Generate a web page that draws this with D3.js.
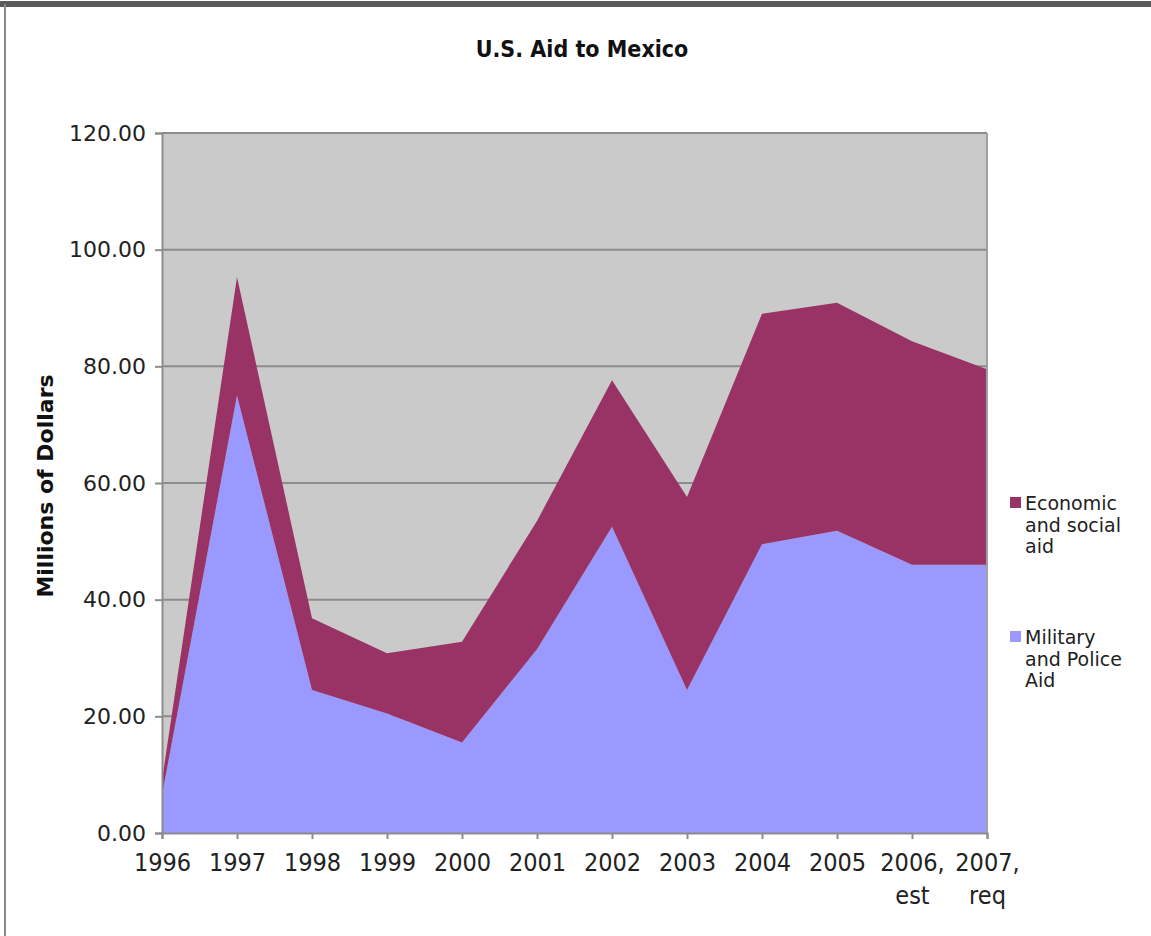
<!DOCTYPE html>
<html>
<head>
<meta charset="utf-8">
<script src="https://cdn.jsdelivr.net/npm/d3@7"></script>
<style>
  html, body { margin: 0; padding: 0; background: #ffffff; }
  svg { display: block; }
</style>
</head>
<body>
<svg id="chart" width="1151" height="936"></svg>
<script>
// ---- data ----
const years = ["1996","1997","1998","1999","2000","2001","2002","2003","2004","2005","2006","2007"];
const yearLabels = ["1996","1997","1998","1999","2000","2001","2002","2003","2004","2005","2006,","2007,"];
const yearSubLabels = ["","","","","","","","","","","est","req"];
const militaryAid = [6.5, 75.0, 24.5, 20.5, 15.5, 31.5, 52.5, 24.5, 49.5, 51.8, 46.0, 46.0];
const economicAid = [2.5, 20.3, 12.3, 10.3, 17.3, 22.0, 25.1, 33.1, 39.5, 39.1, 38.3, 33.5];
const yTicks = [0, 20, 40, 60, 80, 100, 120];
const seriesNames = ["Military and Police Aid", "Economic and social aid"];
const legendLines = [["Economic", "and social", "aid"], ["Military", "and Police", "Aid"]];

// ---- layout ----
const W = 1151, H = 936;
const plot = { left: 162, right: 987, top: 133, bottom: 833 };
const colors = { military: "#9999ff", economic: "#993366" };

const svg = d3.select("#chart");

// outer frame
svg.append("rect").attr("x", 0).attr("y", 0).attr("width", W).attr("height", H).attr("fill", "#ffffff");
svg.append("line").attr("x1", 0).attr("x2", W).attr("y1", 4).attr("y2", 4)
  .attr("stroke", "#5a5a5a").attr("stroke-width", 6);
svg.append("line").attr("x1", 5).attr("x2", 5).attr("y1", 4).attr("y2", H)
  .attr("stroke", "#8a8a8a").attr("stroke-width", 2);

const x = d3.scalePoint().domain(years).range([plot.left, plot.right]);
const y = d3.scaleLinear().domain([0, 120]).range([plot.bottom, plot.top]);

// plot background
svg.append("rect")
  .attr("x", plot.left).attr("y", plot.top)
  .attr("width", plot.right - plot.left).attr("height", plot.bottom - plot.top)
  .attr("fill", "#cacaca");

// gridlines
svg.append("g").selectAll("line").data(yTicks.filter(d => d > 0)).join("line")
  .attr("x1", plot.left).attr("x2", plot.right)
  .attr("y1", d => y(d)).attr("y2", d => y(d))
  .attr("stroke", "#8c8c8c").attr("stroke-width", 2);

// stacked areas
const rows = years.map((yr, i) => ({ year: yr, military: militaryAid[i], economic: economicAid[i] }));
const stack = d3.stack().keys(["military", "economic"]);
const stacked = stack(rows);
const area = d3.area()
  .x(d => x(d.data.year))
  .y0(d => y(d[0]))
  .y1(d => y(d[1]));

svg.append("g").selectAll("path").data(stacked).join("path")
  .attr("d", area)
  .attr("fill", d => colors[d.key]);

// right border of plot
svg.append("line").attr("x1", plot.right).attr("x2", plot.right)
  .attr("y1", plot.top).attr("y2", plot.bottom)
  .attr("stroke", "#a0a0a0").attr("stroke-width", 2);

// y axis
const yAxis = d3.axisLeft(y).tickValues(yTicks).tickFormat(d3.format(".2f")).tickSize(7).tickPadding(9);
const gy = svg.append("g").attr("transform", `translate(${plot.left},0)`).call(yAxis);
gy.select(".domain").attr("stroke", "#8c8c8c").attr("stroke-width", 2);
gy.selectAll(".tick line").attr("stroke", "#8c8c8c").attr("stroke-width", 2);
gy.selectAll(".tick text")
  .attr("font-family", "'DejaVu Sans', Verdana, sans-serif")
  .attr("font-size", 22).attr("fill", "#222");

// x axis
const xAxis = d3.axisBottom(x).tickSize(6).tickPadding(14).tickFormat((d, i) => yearLabels[i]);
const gx = svg.append("g").attr("transform", `translate(0,${plot.bottom})`).call(xAxis);
gx.select(".domain").attr("stroke", "#8c8c8c").attr("stroke-width", 2);
gx.selectAll(".tick line").attr("stroke", "#8c8c8c").attr("stroke-width", 2);
gx.selectAll(".tick text")
  .attr("font-family", "'DejaVu Sans Condensed', 'DejaVu Sans', sans-serif")
  .attr("font-stretch", "condensed")
  .attr("font-size", 25).attr("fill", "#222");
gx.selectAll(".tick").append("text")
  .attr("y", 71)
  .attr("text-anchor", "middle")
  .attr("font-family", "'DejaVu Sans Condensed', 'DejaVu Sans', sans-serif")
  .attr("font-stretch", "condensed")
  .attr("font-size", 25).attr("fill", "#222")
  .text((d, i) => yearSubLabels[i]);

// title
svg.append("text")
  .attr("x", 582).attr("y", 57)
  .attr("text-anchor", "middle")
  .attr("font-family", "'DejaVu Sans Condensed', 'DejaVu Sans', sans-serif")
  .attr("font-stretch", "condensed")
  .attr("font-weight", "bold")
  .attr("font-size", 23).attr("fill", "#111")
  .text("U.S. Aid to Mexico");

// y axis title
svg.append("text")
  .attr("transform", `translate(53,${(plot.top + plot.bottom) / 2 + 3}) rotate(-90)`)
  .attr("text-anchor", "middle")
  .attr("font-family", "'DejaVu Sans', sans-serif")
  .attr("font-weight", "bold")
  .attr("font-size", 22).attr("fill", "#111")
  .text("Millions of Dollars");

// legend
const legendItems = [
  { key: "economic", lines: legendLines[0], y: 503 },
  { key: "military", lines: legendLines[1], y: 637 }
];
const lg = svg.append("g");
legendItems.forEach(item => {
  lg.append("rect")
    .attr("x", 1010).attr("y", item.y - 6)
    .attr("width", 11).attr("height", 11)
    .attr("fill", colors[item.key]);
  const t = lg.append("text")
    .attr("x", 1025).attr("y", item.y + 7)
    .attr("font-family", "'DejaVu Sans', sans-serif")
    .attr("font-size", 19).attr("fill", "#222");
  item.lines.forEach((ln, i) => {
    t.append("tspan").attr("x", 1025).attr("dy", i === 0 ? 0 : 21.5).text(ln);
  });
});
</script>
</body>
</html>
